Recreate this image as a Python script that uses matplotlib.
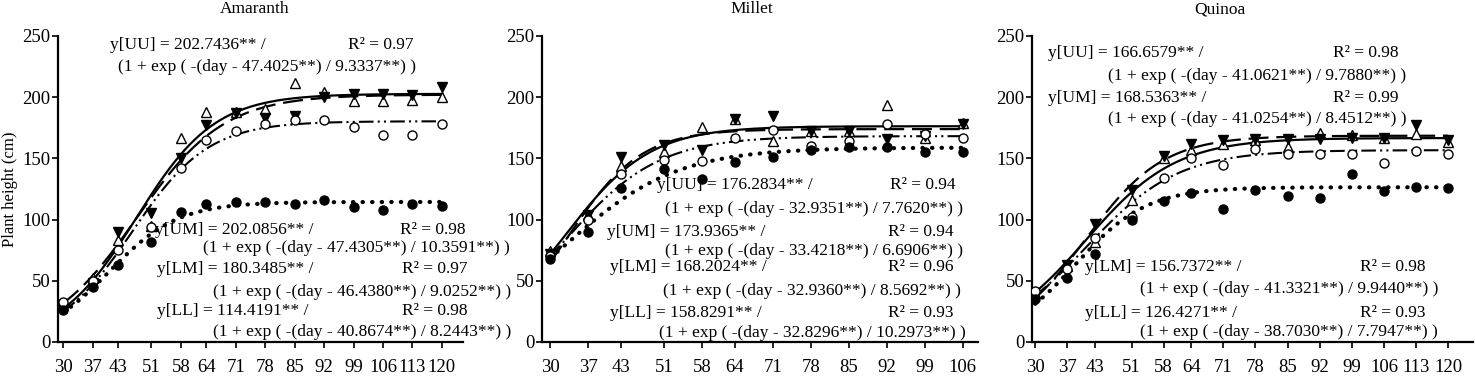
import numpy as np
import matplotlib
matplotlib.use("Agg")
import matplotlib.pyplot as plt

plt.rcParams["font.family"] = ["Liberation Serif", "DejaVu Serif"]
plt.rcParams["font.size"] = 12.5

# ── data ──────────────────────────────────────────────────────────────────────
DAYS_LONG = [30, 37, 43, 51, 58, 64, 71, 78, 85, 92, 99, 106, 113, 120]
DAYS_MILLET = [30, 37, 43, 51, 58, 64, 71, 78, 85, 92, 99, 106]
TREATMENTS = ["UU", "UM", "LM", "LL"]

amaranth_uu = [30, 52, 83, 95, 167, 188, 188, 190, 212, 204, 197, 197, 198, 200]
amaranth_um = [27, 48, 90, 105, 150, 177, 187, 183, 185, 200, 203, 203, 202, 208]
amaranth_lm = [33, 50, 75, 94, 142, 165, 172, 178, 181, 181, 176, 169, 169, 178]
amaranth_ll = [26, 45, 63, 82, 106, 113, 114, 114, 113, 116, 110, 108, 113, 111]

millet_uu = [74, 104, 144, 155, 176, 182, 164, 172, 172, 194, 167, 179]
millet_um = [72, 104, 151, 161, 157, 182, 185, 172, 172, 166, 168, 178]
millet_lm = [70, 100, 137, 149, 148, 167, 173, 160, 164, 178, 170, 167]
millet_ll = [68, 90, 126, 141, 133, 147, 151, 157, 159, 159, 155, 155]

quinoa_uu = [40, 62, 82, 116, 150, 157, 162, 165, 159, 171, 169, 167, 170, 163]
quinoa_um = [38, 63, 96, 124, 152, 162, 165, 166, 166, 166, 167, 167, 177, 165]
quinoa_lm = [42, 60, 85, 102, 134, 150, 145, 158, 154, 154, 154, 146, 156, 154]
quinoa_ll = [35, 52, 72, 100, 115, 122, 109, 124, 119, 118, 137, 123, 127, 126]

# fitted logistic parameters: asymptote, inflection day, scale
amaranth_a = [202.7436, 202.0856, 180.3485, 114.4191]
amaranth_x0 = [47.4025, 47.4305, 46.4380, 40.8674]
amaranth_b = [9.3337, 10.3591, 9.0252, 8.2443]
amaranth_r2 = [0.97, 0.98, 0.97, 0.98]

millet_a = [176.2834, 173.9365, 168.2024, 158.8291]
millet_x0 = [32.9351, 33.4218, 32.9360, 32.8296]
millet_b = [7.7620, 6.6906, 8.5692, 10.2973]
millet_r2 = [0.94, 0.94, 0.96, 0.93]

quinoa_a = [166.6579, 168.5363, 156.7372, 126.4271]
quinoa_x0 = [41.0621, 41.0254, 41.3321, 38.7030]
quinoa_b = [9.7880, 8.4512, 9.9440, 7.7947]
quinoa_r2 = [0.98, 0.99, 0.98, 0.93]

# ── styles ────────────────────────────────────────────────────────────────────
MARKERS = {
    "UU": dict(marker="^", mfc="white", mec="black", ms=6.5, mew=1.0),
    "UM": dict(marker="v", mfc="black", mec="black", ms=6.5, mew=1.0),
    "LM": dict(marker="o", mfc="white", mec="black", ms=6.5, mew=1.0),
    "LL": dict(marker="o", mfc="black", mec="black", ms=6.5, mew=1.0),
}
LINES = {
    "UU": dict(linestyle="-", lw=1.6),
    "UM": dict(linestyle=(0, (9, 3.5)), lw=1.6),
    "LM": dict(linestyle=(0, (7, 2, 1, 2, 1, 2)), lw=1.5),
    "LL": dict(linestyle=(0, (0.1, 2.2)), lw=3.0, dash_capstyle="round"),
}


def logistic(x, a, x0, b):
    return a / (1 + np.exp(-(x - x0) / b))


def draw_panel(ax, title_x, title, days, series, a, x0, b, r2, text_pos, xlim):
    xs = np.linspace(days[0], days[-1], 300)
    for t, ys, ai, xi, bi in zip(TREATMENTS, series, a, x0, b):
        ax.plot(xs, logistic(xs, ai, xi, bi), color="black", zorder=2, **LINES[t])
        ax.plot(days, ys, linestyle="none", zorder=3, **MARKERS[t])

    for t, ai, xi, bi, ri, (x1, y1, xr, x2, y2) in zip(TREATMENTS, a, x0, b, r2, text_pos):
        ax.text(x1, y1, f"y[{t}] = {ai:.4f}** /", va="center", ha="left", zorder=4)
        ax.text(xr, y1, f"R² = {ri:.2f}", va="center", ha="left", zorder=4)
        ax.text(x2, y2, f"(1 + exp ( -(day - {xi:.4f}**) / {bi:.4f}**) )",
                va="center", ha="left", zorder=4)

    ax.set_xlim(*xlim)
    ax.set_ylim(0, 250)
    ax.set_xticks(days)
    ax.set_xticklabels([str(d) for d in days])
    ax.set_yticks([0, 50, 100, 150, 200, 250])
    ax.spines[["top", "right"]].set_visible(False)
    for s in ["left", "bottom"]:
        ax.spines[s].set_linewidth(1.6)
    ax.tick_params(direction="out", length=4, width=1.2, labelsize=13.5)
    ax.tick_params(axis="x", pad=8)
    ax.tick_params(axis="y", pad=1.5)
    ax.get_figure().text(title_x, 0.965, title, ha="center", va="baseline", fontsize=12.5)


fig = plt.figure(figsize=(14.75, 3.8), dpi=100)
bottom, height = 38 / 380, 306 / 380

ax_a = fig.add_axes([58 / 1475, bottom, 405 / 1475, height])
ax_m = fig.add_axes([542 / 1475, bottom, 436 / 1475, height])
ax_q = fig.add_axes([1032 / 1475, bottom, 441 / 1475, height])

draw_panel(
    ax_a, 255 / 1475, "Amaranth", DAYS_LONG,
    [amaranth_uu, amaranth_um, amaranth_lm, amaranth_ll],
    amaranth_a, amaranth_x0, amaranth_b, amaranth_r2,
    [(41.2, 243, 97.7, 43.0, 225),
     (51.9, 91.5, 110.0, 63.3, 77),
     (52.3, 60, 110.5, 65.6, 41),
     (52.3, 25, 110.5, 65.6, 8)],
    (28.8, 125.0),
)
draw_panel(
    ax_m, 752 / 1475, "Millet", DAYS_MILLET,
    [millet_uu, millet_um, millet_lm, millet_ll],
    millet_a, millet_x0, millet_b, millet_r2,
    [(49.7, 128, 92.6, 51.2, 109),
     (40.5, 90, 92.2, 51.2, 74),
     (41.0, 61, 92.2, 50.8, 42),
     (41.0, 24, 92.2, 50.1, 7)],
    (28.5, 108.8),
)
draw_panel(
    ax_q, 1220 / 1475, "Quinoa", DAYS_LONG,
    [quinoa_uu, quinoa_um, quinoa_lm, quinoa_ll],
    quinoa_a, quinoa_x0, quinoa_b, quinoa_r2,
    [(32.8, 236, 94.9, 45.9, 217),
     (32.8, 199, 94.9, 45.9, 182),
     (40.9, 61, 100.8, 52.9, 43),
     (40.9, 24, 100.8, 52.9, 8)],
    (29.3, 125.4),
)

ax_a.set_ylabel("Plant height (cm)", fontsize=12)
ax_a.yaxis.set_label_coords(-40 / 405, 0.5)

fig.savefig("out.png", dpi=100)
